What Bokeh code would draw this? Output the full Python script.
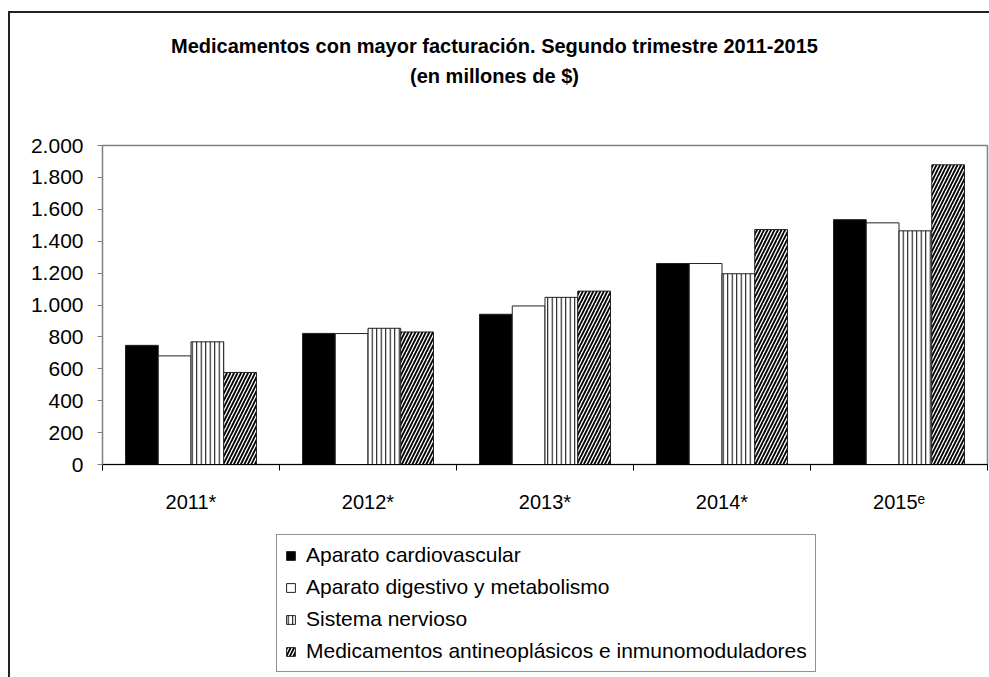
from bokeh.plotting import figure
from bokeh.layouts import column
from bokeh.models import (ColumnDataSource, Range1d, FixedTicker, LinearAxis, Legend,
                          LegendItem, Label, InlineStyleSheet)
from bokeh.transform import dodge
from bokeh.embed import file_html
from bokeh.resources import INLINE

years = ["2011", "2012", "2013", "2014", "2015"]
year_marks = ["*", "*", "*", "*", "\u1d49"]
cardiovascular = [747, 822, 942, 1260, 1535]
digestivo = [681, 821, 994, 1260, 1515]
nervioso = [769, 854, 1048, 1196, 1465]
antineoplasicos = [577, 831, 1087, 1473, 1879]
series_names = ["Aparato cardiovascular", "Aparato digestivo y metabolismo",
                "Sistema nervioso", "Medicamentos antineoplásicos e inmunomoduladores"]
y_ticks = [0, 200, 400, 600, 800, 1000, 1200, 1400, 1600, 1800, 2000]
title_lines = ["Medicamentos con mayor facturación. Segundo trimestre 2011-2015",
               "(en millones de $)"]

FONT = "Liberation Sans"
W, H = 989, 677
TOP_H = 100
MAIN_H = 430
LEG_H = H - TOP_H - MAIN_H
FRAME_L = 102


def bare(fig):
    fig.xgrid.visible = False
    fig.ygrid.visible = False
    fig.outline_line_color = None
    fig.border_fill_color = "white"
    fig.background_fill_color = "white"


# ---- title strip ----
t = figure(width=W, height=TOP_H, output_backend="svg", toolbar_location=None,
           x_range=Range1d(0, 1), y_range=Range1d(0, 1), min_border=0,
           x_axis_location=None, y_axis_location=None)
bare(t)
for line, ypos in zip(title_lines, [45, 75]):
    t.add_layout(Label(x=494 - FRAME_L, y=TOP_H - ypos, x_units="screen", y_units="screen", text=line,
                       text_font=FONT, text_font_style="bold", text_font_size="20px",
                       text_color="black", text_align="center", text_baseline="middle"))

# ---- chart ----
xs = [i + 0.5 for i in range(len(years))]
src = ColumnDataSource(dict(x=xs, a=cardiovascular, b=digestivo, c=nervioso, d=antineoplasicos))

p = figure(width=W, height=MAIN_H, output_backend="svg", toolbar_location=None,
           x_range=Range1d(0, len(years)), y_range=Range1d(0, 2000),
           min_border_left=FRAME_L, min_border_right=2, min_border_top=145 - TOP_H,
           min_border_bottom=TOP_H + MAIN_H - 464, x_axis_location=None, y_axis_location=None)
bare(p)
p.outline_line_color = "#808080"
p.outline_line_width = 1.5

bw = 0.185
offs = [-1.5 * bw, -0.5 * bw, 0.5 * bw, 1.5 * bw]
styles = [dict(fill_color="black"),
          dict(fill_color="white"),
          dict(fill_color="white", hatch_pattern="vertical_line", hatch_color="black",
               hatch_scale=4.5, hatch_weight=1),
          dict(fill_color="white", hatch_pattern="right_diagonal_line", hatch_color="black",
               hatch_scale=7, hatch_weight=1.8)]
cols = ["a", "b", "c", "d"]
for o, c, s in zip(offs, cols, styles):
    p.vbar(x=dodge("x", o), top=c, width=bw, source=src, line_color="#222222", line_width=1, **s)

yax = LinearAxis(ticker=FixedTicker(ticks=y_ticks, minor_ticks=[]))
yax.major_label_overrides = {v: f"{v:,}".replace(",", ".") for v in y_ticks}
yax.axis_line_color = "#808080"
yax.major_tick_line_color = "#808080"
yax.major_tick_in = 0
yax.major_tick_out = 5
yax.minor_tick_line_color = None
yax.major_label_text_font = FONT
yax.major_label_text_font_size = "21px"
yax.major_label_text_color = "black"
yax.major_label_standoff = 14
p.add_layout(yax, "left")

xax = LinearAxis(ticker=FixedTicker(ticks=xs, minor_ticks=list(range(len(years) + 1))))
xax.major_label_overrides = {x: y + m for x, y, m in zip(xs, years, year_marks)}
xax.axis_line_color = "black"
xax.major_tick_line_color = None
xax.major_tick_out = 0
xax.major_tick_in = 0
xax.minor_tick_line_color = "black"
xax.minor_tick_out = 6
xax.minor_tick_in = 0
xax.major_label_text_font = FONT
xax.major_label_text_font_size = "20px"
xax.major_label_text_color = "black"
xax.major_label_standoff = 20
p.add_layout(xax, "below")

# ---- legend strip (same series; its bars lie outside this strip's visible range) ----
lg = figure(width=W, height=LEG_H, output_backend="svg", toolbar_location=None,
            x_range=Range1d(0, len(years)), y_range=Range1d(3000, 4000), min_border=0,
            x_axis_location=None, y_axis_location=None)
bare(lg)
rs = [lg.vbar(x=dodge("x", o), top=c, width=bw, source=src, line_color="#222222", line_width=1, **s)
      for o, c, s in zip(offs, cols, styles)]

legend = Legend(items=[LegendItem(label=n, renderers=[r]) for n, r in zip(series_names, rs)],
                location=(276 - FRAME_L, 5), orientation="vertical")
legend.label_text_font = FONT
legend.label_text_font_size = "21px"
legend.label_text_color = "black"
legend.glyph_width = 11
legend.glyph_height = 11
legend.label_height = 24
legend.label_standoff = 10
legend.spacing = 8
legend.padding = 8
legend.margin = 0
legend.border_line_color = "#222222"
legend.border_line_width = 1
legend.background_fill_color = "white"
legend.background_fill_alpha = 1
lg.add_layout(legend, "center")

lay = column(t, p, lg, spacing=0)
lay.stylesheets = [InlineStyleSheet(css=(
    ":host { position: relative; }"
    ":host::after { content: ''; position: absolute; left: 8px; top: 11px; width: 979px; height: 664px;"
    " border-left: 2px solid #222; border-top: 2px solid #222; pointer-events: none; z-index: 10; }"))]

open("out.html", "w").write(file_html(lay, INLINE))
